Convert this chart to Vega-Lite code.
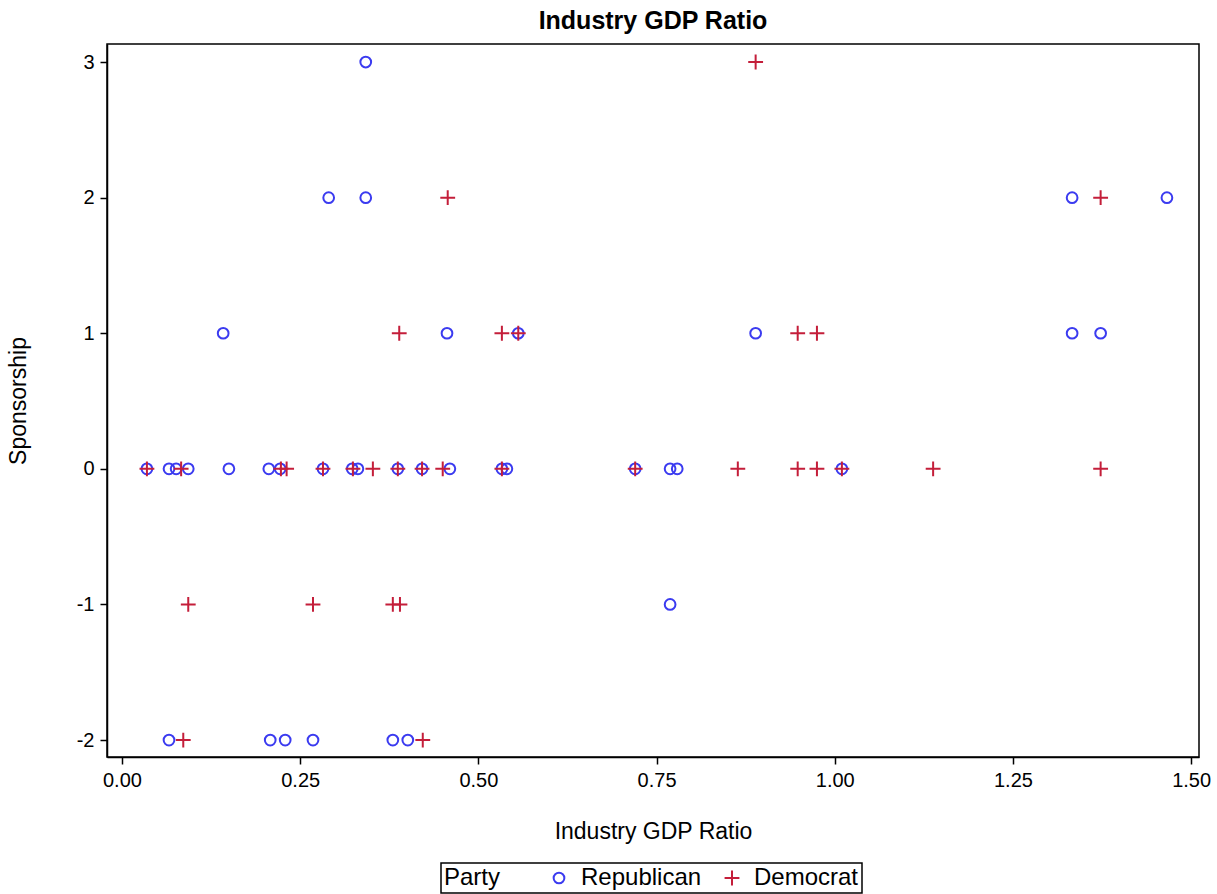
{
  "$schema": "https://vega.github.io/schema/vega-lite/v6.json",
  "autosize": "none",
  "width": 1092,
  "height": 713,
  "padding": {"left": 107, "top": 44, "right": 18, "bottom": 137},
  "background": "white",
  "title": {"text": "Industry GDP Ratio", "fontSize": 25, "fontWeight": "bold", "font": "Liberation Sans", "color": "black", "offset": 10, "anchor": "middle"},
  "data": {"values": [
    {"ratio": 0.035, "sponsorship": 0, "party": "Republican"},
    {"ratio": 0.066, "sponsorship": 0, "party": "Republican"},
    {"ratio": 0.076, "sponsorship": 0, "party": "Republican"},
    {"ratio": 0.093, "sponsorship": 0, "party": "Republican"},
    {"ratio": 0.150, "sponsorship": 0, "party": "Republican"},
    {"ratio": 0.206, "sponsorship": 0, "party": "Republican"},
    {"ratio": 0.222, "sponsorship": 0, "party": "Republican"},
    {"ratio": 0.282, "sponsorship": 0, "party": "Republican"},
    {"ratio": 0.323, "sponsorship": 0, "party": "Republican"},
    {"ratio": 0.331, "sponsorship": 0, "party": "Republican"},
    {"ratio": 0.387, "sponsorship": 0, "party": "Republican"},
    {"ratio": 0.421, "sponsorship": 0, "party": "Republican"},
    {"ratio": 0.460, "sponsorship": 0, "party": "Republican"},
    {"ratio": 0.533, "sponsorship": 0, "party": "Republican"},
    {"ratio": 0.540, "sponsorship": 0, "party": "Republican"},
    {"ratio": 0.720, "sponsorship": 0, "party": "Republican"},
    {"ratio": 0.769, "sponsorship": 0, "party": "Republican"},
    {"ratio": 0.779, "sponsorship": 0, "party": "Republican"},
    {"ratio": 1.010, "sponsorship": 0, "party": "Republican"},
    {"ratio": 0.066, "sponsorship": -2, "party": "Republican"},
    {"ratio": 0.208, "sponsorship": -2, "party": "Republican"},
    {"ratio": 0.229, "sponsorship": -2, "party": "Republican"},
    {"ratio": 0.268, "sponsorship": -2, "party": "Republican"},
    {"ratio": 0.380, "sponsorship": -2, "party": "Republican"},
    {"ratio": 0.401, "sponsorship": -2, "party": "Republican"},
    {"ratio": 0.769, "sponsorship": -1, "party": "Republican"},
    {"ratio": 0.142, "sponsorship": 1, "party": "Republican"},
    {"ratio": 0.456, "sponsorship": 1, "party": "Republican"},
    {"ratio": 0.556, "sponsorship": 1, "party": "Republican"},
    {"ratio": 0.889, "sponsorship": 1, "party": "Republican"},
    {"ratio": 1.333, "sponsorship": 1, "party": "Republican"},
    {"ratio": 1.373, "sponsorship": 1, "party": "Republican"},
    {"ratio": 0.290, "sponsorship": 2, "party": "Republican"},
    {"ratio": 0.342, "sponsorship": 2, "party": "Republican"},
    {"ratio": 1.333, "sponsorship": 2, "party": "Republican"},
    {"ratio": 1.466, "sponsorship": 2, "party": "Republican"},
    {"ratio": 0.342, "sponsorship": 3, "party": "Republican"},
    {"ratio": 0.035, "sponsorship": 0, "party": "Democrat"},
    {"ratio": 0.083, "sponsorship": 0, "party": "Democrat"},
    {"ratio": 0.223, "sponsorship": 0, "party": "Democrat"},
    {"ratio": 0.231, "sponsorship": 0, "party": "Democrat"},
    {"ratio": 0.282, "sponsorship": 0, "party": "Democrat"},
    {"ratio": 0.324, "sponsorship": 0, "party": "Democrat"},
    {"ratio": 0.352, "sponsorship": 0, "party": "Democrat"},
    {"ratio": 0.387, "sponsorship": 0, "party": "Democrat"},
    {"ratio": 0.421, "sponsorship": 0, "party": "Democrat"},
    {"ratio": 0.450, "sponsorship": 0, "party": "Democrat"},
    {"ratio": 0.533, "sponsorship": 0, "party": "Democrat"},
    {"ratio": 0.720, "sponsorship": 0, "party": "Democrat"},
    {"ratio": 0.864, "sponsorship": 0, "party": "Democrat"},
    {"ratio": 0.948, "sponsorship": 0, "party": "Democrat"},
    {"ratio": 0.975, "sponsorship": 0, "party": "Democrat"},
    {"ratio": 1.010, "sponsorship": 0, "party": "Democrat"},
    {"ratio": 1.138, "sponsorship": 0, "party": "Democrat"},
    {"ratio": 1.373, "sponsorship": 0, "party": "Democrat"},
    {"ratio": 0.086, "sponsorship": -2, "party": "Democrat"},
    {"ratio": 0.422, "sponsorship": -2, "party": "Democrat"},
    {"ratio": 0.093, "sponsorship": -1, "party": "Democrat"},
    {"ratio": 0.268, "sponsorship": -1, "party": "Democrat"},
    {"ratio": 0.380, "sponsorship": -1, "party": "Democrat"},
    {"ratio": 0.390, "sponsorship": -1, "party": "Democrat"},
    {"ratio": 0.389, "sponsorship": 1, "party": "Democrat"},
    {"ratio": 0.533, "sponsorship": 1, "party": "Democrat"},
    {"ratio": 0.556, "sponsorship": 1, "party": "Democrat"},
    {"ratio": 0.948, "sponsorship": 1, "party": "Democrat"},
    {"ratio": 0.975, "sponsorship": 1, "party": "Democrat"},
    {"ratio": 0.457, "sponsorship": 2, "party": "Democrat"},
    {"ratio": 1.373, "sponsorship": 2, "party": "Democrat"},
    {"ratio": 0.889, "sponsorship": 3, "party": "Democrat"}
  ]},
  "mark": {"type": "point", "filled": false, "strokeWidth": 2, "opacity": 1},
  "encoding": {
    "x": {
      "field": "ratio", "type": "quantitative",
      "scale": {"domain": [-0.021, 1.511], "nice": false, "zero": false},
      "axis": {"title": "Industry GDP Ratio", "values": [0, 0.25, 0.5, 0.75, 1.0, 1.25, 1.5], "format": ".2f", "grid": false, "labelPadding": 6, "titlePadding": 30}
    },
    "y": {
      "field": "sponsorship", "type": "quantitative",
      "scale": {"domain": [-2.125, 3.133], "nice": false, "zero": false},
      "axis": {"title": "Sponsorship", "values": [-2, -1, 0, 1, 2, 3], "format": "d", "labelExpr": "replace(datum.label, '\u2212', '-')", "grid": false, "labelPadding": 6, "titlePadding": 46}
    },
    "color": {
      "field": "party", "type": "nominal",
      "scale": {"domain": ["Republican", "Democrat"], "range": ["#3b3bf0", "#c41e3a"]},
      "legend": {"title": "Party"}
    },
    "shape": {
      "field": "party", "type": "nominal",
      "scale": {"domain": ["Republican", "Democrat"], "range": ["circle", "M-1,0H1M0,-1V1"]}
    },
    "size": {
      "field": "party", "type": "nominal",
      "scale": {"domain": ["Republican", "Democrat"], "range": [115, 220]}
    }
  },
  "config": {
    "font": "Liberation Sans",
    "view": {"stroke": "black", "strokeWidth": 1.5},
    "axis": {
      "domainColor": "black", "domainWidth": 1.5, "tickColor": "black", "tickWidth": 1.5, "tickSize": 7,
      "labelColor": "black", "labelFontSize": 20, "labelFont": "Liberation Sans",
      "titleColor": "black", "titleFontSize": 23, "titleFontWeight": "normal", "titleFont": "Liberation Sans"
    },
    "legend": {
      "orient": "none", "legendX": 334, "legendY": 819, "direction": "horizontal",
      "titleOrient": "left", "titleFontSize": 24, "titleFontWeight": "normal", "titleColor": "black", "titlePadding": 46,
      "labelFontSize": 24, "labelColor": "black", "labelOffset": 10, "columnPadding": 18,
      "strokeColor": "black", "strokeWidth": 1.5, "padding": 3, "symbolStrokeWidth": 2, "symbolSize": 130
    }
  }
}
